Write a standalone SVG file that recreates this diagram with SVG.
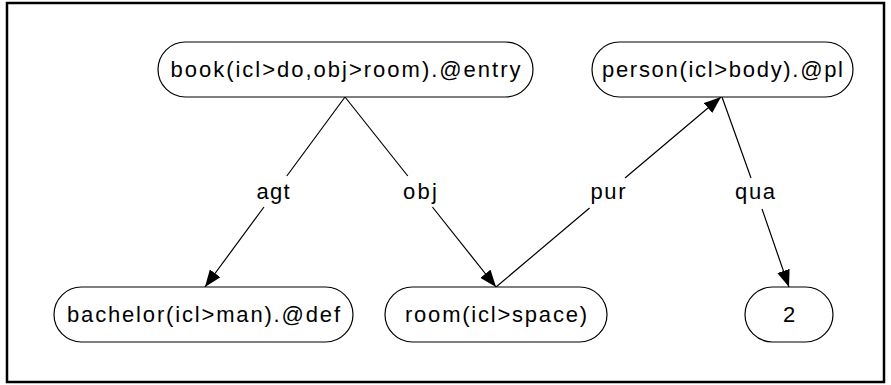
<svg xmlns="http://www.w3.org/2000/svg" width="891" height="385" viewBox="0 0 891 385">
  <style>
    .node rect { fill: #ffffff; stroke: #000000; stroke-width: 1.2; }
    .node text, .label { font-family: "Liberation Sans", Arial, sans-serif; font-size: 22px; fill: #000000; text-anchor: middle; }
    .edge { fill: none; stroke: #000000; stroke-width: 1.2; }
  </style>
  <defs>
    <marker id="arrow" markerUnits="userSpaceOnUse" markerWidth="17" markerHeight="13" viewBox="0 0 17 13" refX="17" refY="6.5" orient="auto">
      <path d="M0,0 L17,6.5 L0,13 z" fill="#000000"/>
    </marker>
  </defs>
  <rect x="7" y="3" width="877" height="379" fill="#ffffff" stroke="#000000" stroke-width="2.5"/>
  <g id="connectors">
    <path class="edge" d="M345,97 L286.8,176 M264,207 L205,287" marker-end="url(#arrow)"/>
    <text class="label" x="273" y="199" textLength="33" lengthAdjust="spacing">agt</text>
    <path class="edge" d="M345,97 L407.8,176 M432.4,207 L496,287" marker-end="url(#arrow)"/>
    <text class="label" x="420" y="199" textLength="34" lengthAdjust="spacing">obj</text>
    <path class="edge" d="M496,287 L589.6,208 M625,178 L721,97" marker-end="url(#arrow)"/>
    <text class="label" x="608" y="199" textLength="35" lengthAdjust="spacing">pur</text>
    <path class="edge" d="M722,97 L751,178 M762,209 L789,287" marker-end="url(#arrow)"/>
    <text class="label" x="755" y="199" textLength="40" lengthAdjust="spacing">qua</text>
  </g>
  <g id="node-book" class="node">
    <rect x="158" y="42" width="375" height="55" rx="27.5" ry="27.5"/>
    <text x="345.5" y="77" textLength="350" lengthAdjust="spacing">book(icl&gt;do,obj&gt;room).@entry</text>
  </g>
  <g id="node-person" class="node">
    <rect x="592" y="42" width="261" height="55" rx="27.5" ry="27.5"/>
    <text x="722.5" y="77" textLength="241" lengthAdjust="spacing">person(icl&gt;body).@pl</text>
  </g>
  <g id="node-bachelor" class="node">
    <rect x="54" y="287" width="299" height="55" rx="27.5" ry="27.5"/>
    <text x="203.5" y="322" textLength="273" lengthAdjust="spacing">bachelor(icl&gt;man).@def</text>
  </g>
  <g id="node-room" class="node">
    <rect x="385" y="287" width="222" height="55" rx="27.5" ry="27.5"/>
    <text x="496" y="322" textLength="182" lengthAdjust="spacing">room(icl&gt;space)</text>
  </g>
  <g id="node-2" class="node">
    <rect x="745" y="287" width="88" height="55" rx="27.5" ry="27.5"/>
    <text x="789" y="322">2</text>
  </g>
</svg>
